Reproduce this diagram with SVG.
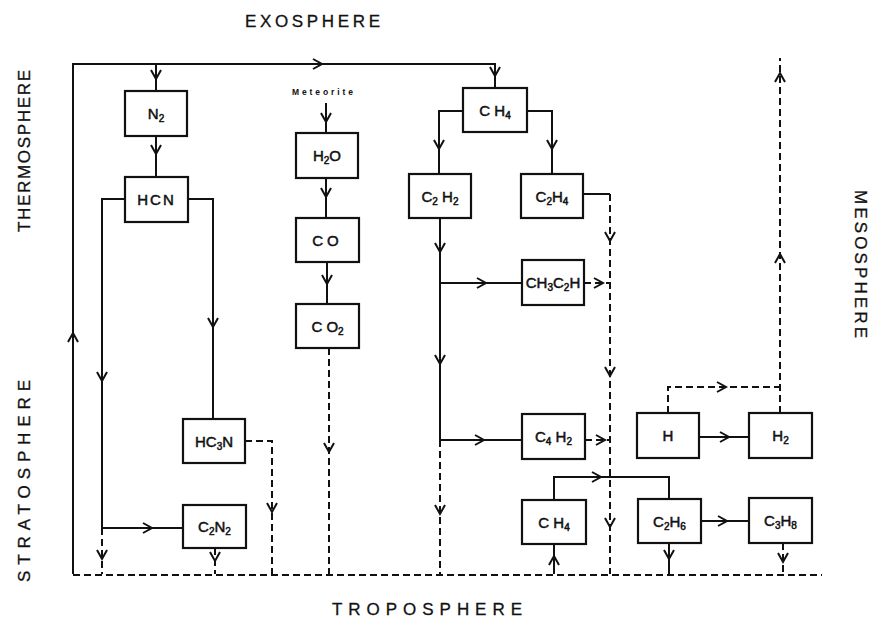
<svg xmlns="http://www.w3.org/2000/svg" width="875" height="624" viewBox="0 0 875 624">
<style>
.bx{fill:#fff;stroke:#111;stroke-width:2.2}
.s{fill:none;stroke:#111;stroke-width:2}
.d{fill:none;stroke:#111;stroke-width:2;stroke-dasharray:7 4}
.ar{fill:none;stroke:#111;stroke-width:2}
.t{font-family:"Liberation Sans",Arial,sans-serif;font-size:15px;fill:#111;stroke:#111;stroke-width:0.5;text-anchor:middle}
.sub{font-size:10px}
.lab{font-family:"Liberation Sans",Arial,sans-serif;font-size:17px;fill:#111;stroke:#111;stroke-width:0.3}
.met{font-family:"Liberation Sans",Arial,sans-serif;font-size:8.5px;font-weight:bold;fill:#111}
</style>
<defs>
<path id="ah" class="ar" d="M-5,-9 L0,0 L5,-9"/>
</defs>
<rect width="875" height="624" fill="#fff"/>

<g id="labels">
<text class="lab" x="245" y="27" textLength="135" lengthAdjust="spacing">EXOSPHERE</text>
<text class="lab" x="332" y="615" textLength="190" lengthAdjust="spacing">TROPOSPHERE</text>
<text class="lab" transform="translate(24,151) rotate(-90)" x="-81" y="6" textLength="162" lengthAdjust="spacing">THERMOSPHERE</text>
<text class="lab" transform="translate(24,481) rotate(-90)" x="-101" y="6" textLength="202" lengthAdjust="spacing">STRATOSPHERE</text>
<text class="lab" transform="translate(861,264) rotate(90)" x="-74" y="6" textLength="148" lengthAdjust="spacing">MESOSPHERE</text>
<text class="met" x="292" y="95" textLength="61" lengthAdjust="spacing">Meteorite</text>
</g>

<g id="connectors">
<path class="s" d="M73,574 V64 H495 V88"/>
<use href="#ah" transform="translate(73,333) rotate(180)"/>
<use href="#ah" transform="translate(322,64) rotate(-90)"/>
<use href="#ah" transform="translate(495,76)"/>
<path class="s" d="M156,64 V91"/>
<use href="#ah" transform="translate(156,79)"/>
<path class="s" d="M156,136 V177"/>
<use href="#ah" transform="translate(156,154)"/>
<path class="s" d="M125,199 H102 V528 H183"/>
<use href="#ah" transform="translate(102,381)"/>
<use href="#ah" transform="translate(152,528) rotate(-90)"/>
<path class="d" d="M102,528 V574"/>
<use href="#ah" transform="translate(102,559)"/>
<path class="s" d="M188,199 H213 V419"/>
<use href="#ah" transform="translate(213,327)"/>
<path class="d" d="M245,441 H272 V574"/>
<use href="#ah" transform="translate(272,512)"/>
<path class="d" d="M215,548 V574"/>
<use href="#ah" transform="translate(215,561)"/>
<path class="s" d="M326,103 V133"/>
<use href="#ah" transform="translate(326,122)"/>
<path class="s" d="M326,178 V218"/>
<use href="#ah" transform="translate(326,197)"/>
<path class="s" d="M327,262 V304"/>
<use href="#ah" transform="translate(327,284)"/>
<path class="d" d="M329,348 V574"/>
<use href="#ah" transform="translate(329,452)"/>
<path class="s" d="M463,111 H439 V174"/>
<use href="#ah" transform="translate(439,149)"/>
<path class="s" d="M527,111 H552 V174"/>
<use href="#ah" transform="translate(552,149)"/>
<path class="s" d="M440,218 V440"/>
<use href="#ah" transform="translate(440,252)"/>
<use href="#ah" transform="translate(440,364)"/>
<path class="s" d="M440,283 H522"/>
<use href="#ah" transform="translate(486,283) rotate(-90)"/>
<path class="s" d="M440,440 H522"/>
<use href="#ah" transform="translate(484,440) rotate(-90)"/>
<path class="d" d="M440,440 V574"/>
<use href="#ah" transform="translate(440,514)"/>
<path class="s" d="M583,194 H610"/>
<path class="d" d="M610,194 V574"/>
<use href="#ah" transform="translate(610,241)"/>
<use href="#ah" transform="translate(610,376)"/>
<use href="#ah" transform="translate(610,527)"/>
<path class="d" d="M584,283 H610"/>
<use href="#ah" transform="translate(603,283) rotate(-90)"/>
<path class="d" d="M585,440 H610"/>
<use href="#ah" transform="translate(605,440) rotate(-90)"/>
<path class="s" d="M699,437 H749"/>
<use href="#ah" transform="translate(729,437) rotate(-90)"/>
<path class="d" d="M668,413 V387 H780"/>
<use href="#ah" transform="translate(726,387) rotate(-90)"/>
<path class="d" d="M780,413 V58"/>
<use href="#ah" transform="translate(780,254) rotate(180)"/>
<use href="#ah" transform="translate(780,73) rotate(180)"/>
<path class="s" d="M554,500 V477 H669 V499"/>
<use href="#ah" transform="translate(601,477) rotate(-90)"/>
<path class="s" d="M701,521 H749"/>
<use href="#ah" transform="translate(727,521) rotate(-90)"/>
<path class="s" d="M669,543 V574"/>
<use href="#ah" transform="translate(669,559)"/>
<path class="d" d="M783,543 V574"/>
<use href="#ah" transform="translate(783,562)"/>
<path class="s" d="M554,574 V544"/>
<use href="#ah" transform="translate(554,556) rotate(180)"/>
<path class="d" d="M73,575 H822"/>
</g>

<g id="n-N2"><rect class="bx" x="125" y="91" width="62" height="45"/><text class="t" x="156" y="119">N<tspan class="sub" dy="3">2</tspan></text></g>
<g id="n-HCN"><rect class="bx" x="125" y="177" width="63" height="45"/><text class="t" x="156.5" y="205" letter-spacing="2">HCN</text></g>
<g id="n-H2O"><rect class="bx" x="296" y="133" width="62" height="45"/><text class="t" x="327" y="161">H<tspan class="sub" dy="3">2</tspan><tspan dy="-3">O</tspan></text></g>
<g id="n-CO"><rect class="bx" x="296" y="218" width="63" height="44"/><text class="t" x="327.5" y="246" letter-spacing="4">CO</text></g>
<g id="n-CO2"><rect class="bx" x="296" y="304" width="63" height="44"/><text class="t" x="327.5" y="332">C O<tspan class="sub" dy="3">2</tspan></text></g>
<g id="n-CH4a"><rect class="bx" x="463" y="88" width="64" height="44"/><text class="t" x="495" y="116">C H<tspan class="sub" dy="3">4</tspan></text></g>
<g id="n-C2H2"><rect class="bx" x="409" y="174" width="62" height="44"/><text class="t" x="440" y="202">C<tspan class="sub" dy="3">2</tspan><tspan dy="-3"> H</tspan><tspan class="sub" dy="3">2</tspan></text></g>
<g id="n-C2H4"><rect class="bx" x="521" y="174" width="62" height="44"/><text class="t" x="552" y="202">C<tspan class="sub" dy="3">2</tspan><tspan dy="-3">H</tspan><tspan class="sub" dy="3">4</tspan></text></g>
<g id="n-CH3C2H"><rect class="bx" x="522" y="260" width="62" height="45"/><text class="t" x="553" y="288" font-size="14">CH<tspan class="sub" dy="3">3</tspan><tspan dy="-3">C</tspan><tspan class="sub" dy="3">2</tspan><tspan dy="-3">H</tspan></text></g>
<g id="n-C4H2"><rect class="bx" x="522" y="414" width="63" height="45"/><text class="t" x="553.5" y="442">C<tspan class="sub" dy="3">4</tspan><tspan dy="-3"> H</tspan><tspan class="sub" dy="3">2</tspan></text></g>
<g id="n-H"><rect class="bx" x="637" y="413" width="62" height="45"/><text class="t" x="668" y="441">H</text></g>
<g id="n-H2"><rect class="bx" x="749" y="413" width="63" height="45"/><text class="t" x="780.5" y="441">H<tspan class="sub" dy="3">2</tspan></text></g>
<g id="n-CH4b"><rect class="bx" x="522" y="500" width="64" height="44"/><text class="t" x="554" y="528">C H<tspan class="sub" dy="3">4</tspan></text></g>
<g id="n-C2H6"><rect class="bx" x="638" y="499" width="63" height="44"/><text class="t" x="669.5" y="527">C<tspan class="sub" dy="3">2</tspan><tspan dy="-3">H</tspan><tspan class="sub" dy="3">6</tspan></text></g>
<g id="n-C3H8"><rect class="bx" x="749" y="498" width="63" height="45"/><text class="t" x="780.5" y="526">C<tspan class="sub" dy="3">3</tspan><tspan dy="-3">H</tspan><tspan class="sub" dy="3">8</tspan></text></g>
<g id="n-HC3N"><rect class="bx" x="183" y="419" width="62" height="44"/><text class="t" x="214" y="447">HC<tspan class="sub" dy="3">3</tspan><tspan dy="-3">N</tspan></text></g>
<g id="n-C2N2"><rect class="bx" x="183" y="505" width="63" height="43"/><text class="t" x="214.5" y="532">C<tspan class="sub" dy="3">2</tspan><tspan dy="-3">N</tspan><tspan class="sub" dy="3">2</tspan></text></g>
</svg>
